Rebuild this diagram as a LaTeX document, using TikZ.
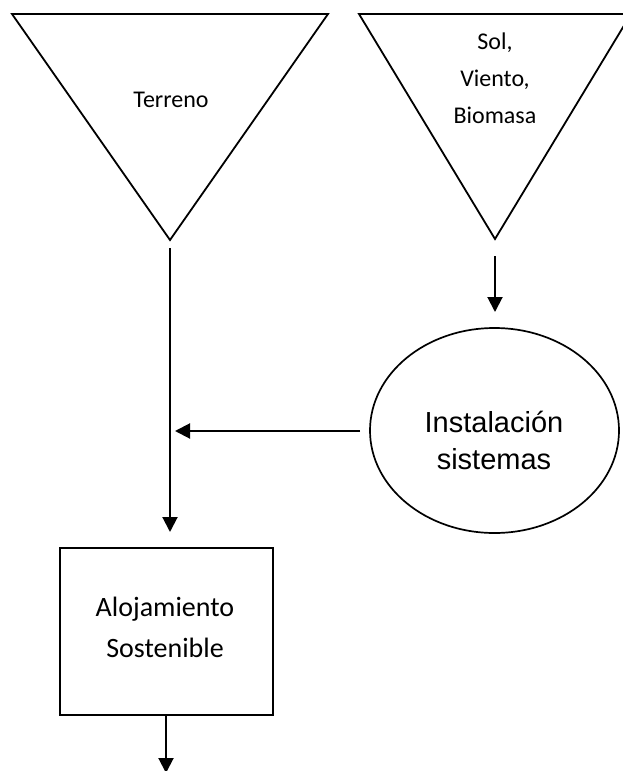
\documentclass[tikz,border=0pt]{standalone}
\usepackage{fontspec}
\setmainfont{Carlito}
\newfontfamily\arialfont{Liberation Sans}
\usetikzlibrary{arrows.meta,shapes.geometric}
\begin{document}
\begin{tikzpicture}[x=1pt,y=-1pt,
  shapeline/.style={line width=1.8pt,line join=miter},
  flow/.style={line width=2pt,-{Triangle[length=15pt,width=15pt]}},
  trilbl/.style={align=center,font=\fontsize{24}{37}\selectfont},
  boxlbl/.style={align=center,font=\fontsize{28}{41}\selectfont},
  elllbl/.style={align=center,font=\arialfont\fontsize{29}{37}\selectfont}]
\useasboundingbox (0,0) rectangle (622,771);
% triangles
\draw[shapeline] (12,14) -- (328,14) -- (170,240) -- cycle;
\node[trilbl,anchor=base] (terreno) at (171,107) {Terreno};
\draw[shapeline] (359,14) -- (631,14) -- (495,239) -- cycle;
\node[trilbl] (sol) at (495,78) {Sol,\\Viento,\\Biomasa};
% ellipse
\node[ellipse,draw,line width=1.7pt,minimum width=249pt,minimum height=205pt] (inst) at (494.5,430.5) {};
\node[elllbl] (insttxt) at (494,440) {Instalación\\sistemas};
% box
\node[draw,line width=2.4pt,minimum width=213pt,minimum height=167pt,anchor=north west] (aloj) at (59,547) {};
\node[boxlbl] (alojtxt) at (165,627) {Alojamiento\\Sostenible};
% connector points
\coordinate (t1) at (170,248);
\coordinate (t1end) at (170,532);
\coordinate (t2) at (495,256);
\coordinate (t2end) at (495,312);
\coordinate (h1) at (360,431);
\coordinate (h1end) at (175,431);
\coordinate (b1) at (166,714);
\coordinate (b1end) at (166,773);
\draw[flow] (t1) -- (t1end);
\draw[flow] (t2) -- (t2end);
\draw[flow] (h1) -- (h1end);
\draw[flow] (b1) -- (b1end);
\end{tikzpicture}
\end{document}
